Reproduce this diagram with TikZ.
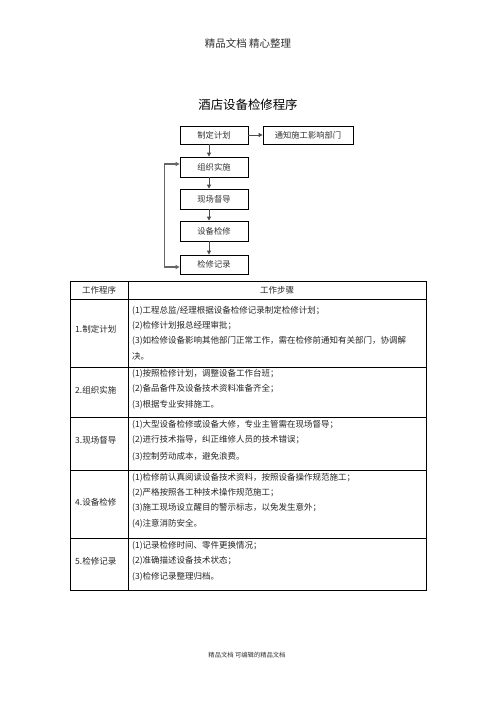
\documentclass[tikz,border=0pt]{standalone}
\usepackage{fontspec}
\newfontfamily\cjk{Noto Sans CJK SC}
\usetikzlibrary{arrows.meta}
\begin{document}
\begin{tikzpicture}[x=1pt,y=-1pt,
  fbox/.style={draw=black,line width=0.8pt,minimum width=68pt,minimum height=19pt,inner sep=0pt,font=\cjk\fontsize{8.3}{10}\selectfont,text=black!80},
  arr/.style={-{Triangle[length=4pt,width=4pt]},line width=0.9pt,draw=black!70},
  fb/.style={{Triangle[length=4pt,width=4pt]}-{Triangle[length=4pt,width=4pt]},line width=1.3pt,draw=black!60},
  cell/.style={anchor=west,inner sep=0pt,font=\cjk\fontsize{8.5}{10}\selectfont,text=black!85},
  head/.style={inner sep=0pt,font=\cjk\fontsize{8.5}{10}\selectfont,text=black!85},
  grid/.style={draw=black,line width=0.9pt}]
\useasboundingbox (0,0) rectangle (496,702);
\fill[white] (0,0) rectangle (496,702);
% header, title, footer
\node[inner sep=0pt,font=\cjk\fontsize{10.5}{12}\selectfont,text=black!80] (hdr) at (248,43) {精品文档\ 精心整理};
\node[inner sep=0pt,font=\cjk\fontsize{12.4}{14}\selectfont] (title) at (248,105) {酒店设备检修程序};
\node[inner sep=0pt,font=\cjk\fontsize{6.3}{8}\selectfont,text=black!80] (ftr) at (247,655) {精品文档\ 可编辑的精品文档};
% flowchart
\node[fbox,minimum height=18pt] (zd) at (214,135) {制定计划};
\node[fbox,minimum width=90pt,minimum height=18pt] (tz) at (308,135) {通知施工影响部门};
\node[fbox,minimum height=20pt] (zz) at (214,167) {组织实施};
\node[fbox,minimum height=20pt] (xc) at (214,199) {现场督导};
\node[fbox,minimum height=20pt] (sb) at (214,231) {设备检修};
\node[fbox,minimum height=19pt] (jl) at (214,264.5) {检修记录};
\draw[arr] (zd.east) -- (tz.west);
\draw[arr] ([xshift=-5pt]zd.south) -- ([xshift=-5pt]zz.north);
\draw[arr] ([xshift=-5pt]zz.south) -- ([xshift=-5pt]xc.north);
\draw[arr] ([xshift=-5pt]xc.south) -- ([xshift=-5pt]sb.north);
\draw[arr] ([xshift=-5pt]sb.south) -- ([xshift=-5pt]jl.north);
\draw[fb] ([yshift=3pt]zz.west) -- ++(-15,0) |- ([yshift=-2.5pt]jl.west);
% table
\draw[grid] (70,281) rectangle (426,590);
\draw[grid] (128,281) -- (128,590);
\foreach \yy in {299,367,417,470,538} \draw[grid] (70,\yy) -- (426,\yy);
\node[head] (h1) at (99,290) {工作程序};
\node[head] (h2) at (277,290) {工作步骤};
% row 1
\node[cell] (l1) at (75,329) {1.制定计划};
\node[cell] (r11) at (132,311) {(1)工程总监/经理根据设备检修记录制定检修计划；};
\node[cell] (r12) at (132,326) {(2)检修计划报总经理审批；};
\node[cell] (r13) at (132,341) {(3)如检修设备影响其他部门正常工作，需在检修前通知有关部门，协调解};
\node[cell] (r14) at (132,356) {决。};
% row 2
\node[cell] (l2) at (75,390) {2.组织实施};
\node[cell] (r21) at (132,374) {(1)按照检修计划，调整设备工作台班；};
\node[cell] (r22) at (132,389) {(2)备品备件及设备技术资料准备齐全；};
\node[cell] (r23) at (132,405) {(3)根据专业安排施工。};
% row 3
\node[cell] (l3) at (75,440) {3.现场督导};
\node[cell] (r31) at (132,425) {(1)大型设备检修或设备大修，专业主管需在现场督导；};
\node[cell] (r32) at (132,440) {(2)进行技术指导，纠正维修人员的技术错误；};
\node[cell] (r33) at (132,457) {(3)控制劳动成本，避免浪费。};
% row 4
\node[cell] (l4) at (75,502) {4.设备检修};
\node[cell] (r41) at (132,478) {(1)检修前认真阅读设备技术资料，按照设备操作规范施工；};
\node[cell] (r42) at (132,493) {(2)严格按照各工种技术操作规范施工；};
\node[cell] (r43) at (132,508) {(3)施工现场设立醒目的警示标志，以免发生意外；};
\node[cell] (r44) at (132,524) {(4)注意消防安全。};
% row 5
\node[cell] (l5) at (75,561) {5.检修记录};
\node[cell] (r51) at (132,546) {(1)记录检修时间、零件更换情况；};
\node[cell] (r52) at (132,561) {(2)准确描述设备技术状态；};
\node[cell] (r53) at (132,577) {(3)检修记录整理归档。};
\end{tikzpicture}
\end{document}
